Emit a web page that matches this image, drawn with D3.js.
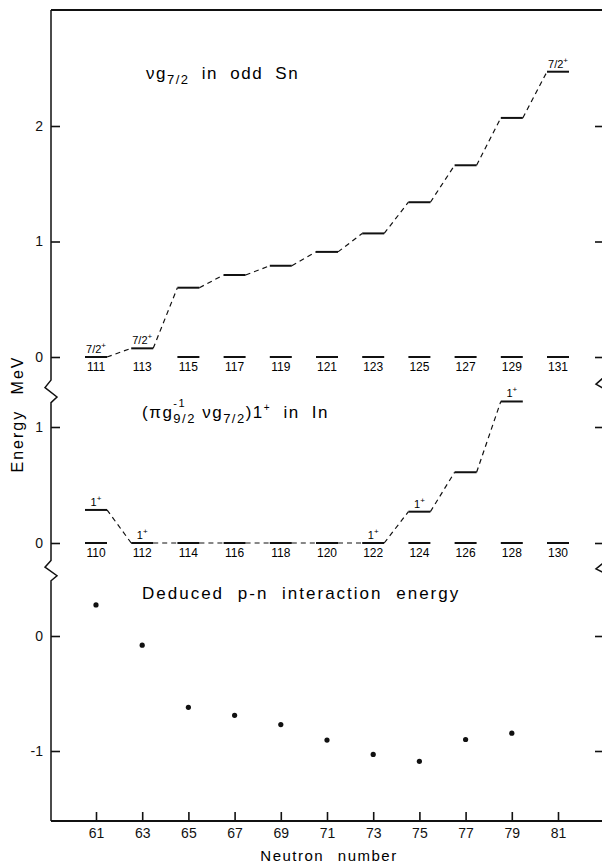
<!DOCTYPE html>
<html>
<head>
<meta charset="utf-8">
<script src="https://cdn.jsdelivr.net/npm/d3@7"></script>
<style>
  body { margin: 0; background: #fff; }
  svg { font-family: 'Liberation Sans', Arial, sans-serif; }
</style>
</head>
<body>
<div id="chart"></div>
<script>
// neutron number ticks
let xTicks = [61, 63, 65, 67, 69, 71, 73, 75, 77, 79, 81];

// nu g7/2 level in odd Sn
let snNeutron = [61, 63, 65, 67, 69, 71, 73, 75, 77, 79, 81];
let snMass = [111, 113, 115, 117, 119, 121, 123, 125, 127, 129, 131];
let snLevel = [0, 0.075, 0.60, 0.71, 0.79, 0.91, 1.07, 1.34, 1.66, 2.07, 2.47];
let snSpin = ['7/2', '7/2', '', '', '', '', '', '', '', '', '7/2'];

// (pi g9/2^-1 nu g7/2) 1+ level in In
let inNeutron = [61, 63, 65, 67, 69, 71, 73, 75, 77, 79, 81];
let inMass = [110, 112, 114, 116, 118, 120, 122, 124, 126, 128, 130];
let inLevel = [0.285, 0, 0, 0, 0, 0, 0, 0.27, 0.61, 1.22, null];
let inSpin = ['1', '1', '', '', '', '', '1', '1', '', '1', ''];

// deduced p-n interaction energy
let pnNeutron = [61, 63, 65, 67, 69, 71, 73, 75, 77, 79];
let pnEnergy = [0.27, -0.08, -0.62, -0.69, -0.77, -0.905, -1.03, -1.09, -0.90, -0.845];

let topTicks = [0, 1, 2];
let midTicks = [0, 1];
let botTicks = [0, -1];

let chart_width = 602;
let chart_height = 865;
let frameL = 51, frameR = 604, frameT = 10, frameB = 821;
let half = 11;

let svg = d3.select('#chart')
    .append('svg')
    .attr('width', chart_width)
    .attr('height', chart_height);

// Scales
let xScale = d3.scaleLinear().domain([61, 81]).range([96, 558]);
let yTop = d3.scaleLinear().domain([0, 2]).range([357, 126]);
let yMid = d3.scaleLinear().domain([0, 1]).range([543, 427]);
let yBot = d3.scaleLinear().domain([0, -1]).range([636, 751]);

let brk1 = [yTop(-0.2), yMid(1.21)];
let brk2 = [yMid(-0.15), yBot(0.48)];

function zig(x0, ya, yb, w) {
    let h = yb - ya;
    return 'L' + x0 + ',' + ya +
        'L' + (x0 - w) + ',' + (ya + h * 0.33) +
        'L' + (x0 + w) + ',' + (ya + h * 0.75) +
        'L' + x0 + ',' + yb;
}

// Frame
svg.append('path')
    .attr('d', 'M' + frameL + ',' + frameT + zig(frameL, brk1[0], brk1[1], 6) +
        zig(frameL, brk2[0], brk2[1], 6) + 'L' + frameL + ',' + frameB)
    .attr('fill', 'none').attr('stroke', '#111').attr('stroke-width', 1.5);
svg.append('path')
    .attr('d', 'M' + frameR + ',' + frameT + zig(frameR, brk1[0] - 3, brk1[1] - 4, 8) +
        zig(frameR, brk2[0] + 2, brk2[1] + 1, 8) + 'L' + frameR + ',' + frameB)
    .attr('fill', 'none').attr('stroke', '#111').attr('stroke-width', 1.5);
svg.append('line')
    .attr('x1', frameL).attr('x2', frameR).attr('y1', frameT).attr('y2', frameT)
    .attr('stroke', '#111').attr('stroke-width', 2);

// Axes
function styleAxis(g) {
    g.select('.domain').remove();
    g.selectAll('.tick line').attr('stroke', '#111').attr('stroke-width', 1.6);
    g.selectAll('.tick text')
        .attr('fill', '#111')
        .style('font-size', '14px')
        .style('font-family', "'Liberation Sans', Arial, sans-serif");
}

[[yTop, topTicks], [yMid, midTicks], [yBot, botTicks]].forEach(function(p) {
    svg.append('g')
        .attr('transform', 'translate(' + frameL + ',0)')
        .call(d3.axisLeft(p[0]).tickValues(p[1]).tickSize(-9).tickPadding(8)
            .tickFormat(function(d) { return String(d); }))
        .call(styleAxis);
    svg.append('g')
        .attr('transform', 'translate(' + frameR + ',0)')
        .call(d3.axisRight(p[0]).tickValues(p[1]).tickSize(-9).tickFormat(''))
        .call(styleAxis);
});

svg.append('g')
    .attr('transform', 'translate(0,' + frameB + ')')
    .call(d3.axisBottom(xScale).tickValues(xTicks).tickSize(-9).tickPadding(7)
        .tickFormat(d3.format('d')))
    .call(styleAxis);
svg.append('line')
    .attr('x1', frameL).attr('x2', frameR).attr('y1', frameB).attr('y2', frameB)
    .attr('stroke', '#111').attr('stroke-width', 2);

// Axis titles
svg.append('text')
    .attr('transform', 'translate(17,414) rotate(-90)')
    .attr('text-anchor', 'middle')
    .attr('dy', '0.35em')
    .style('font-size', '16px')
    .style('letter-spacing', '2px')
    .style('word-spacing', '9px')
    .text('Energy MeV');

svg.append('text')
    .attr('x', 329)
    .attr('y', 861)
    .attr('text-anchor', 'middle')
    .style('font-size', '15px')
    .style('letter-spacing', '1.5px')
    .style('word-spacing', '8px')
    .text('Neutron number');

// Rich text helper: parts laid out left to right, "stack" parts do not advance
function richText(x, y, parts) {
    let cx = x;
    parts.forEach(function(p) {
        let t = svg.append('text')
            .attr('x', cx)
            .attr('y', y + (p.dy || 0))
            .style('font-size', p.size + 'px')
            .style('letter-spacing', (p.ls === undefined ? 1.5 : p.ls) + 'px')
            .style('word-spacing', (p.ws || 0) + 'px')
            .style('white-space', 'pre')
            .text(p.t);
        let w = t.node().getComputedTextLength();
        if (!p.stack) cx += w;
    });
}

richText(146, 79, [
    { t: '\u03bdg', size: 17 },
    { t: '7/2', size: 13, dy: 5 },
    { t: ' in odd Sn', size: 17, ws: 6 }
]);
richText(142, 418, [
    { t: '(\u03c0g', size: 17 },
    { t: '-1', size: 11, dy: -11, stack: true },
    { t: '9/2', size: 13, dy: 5 },
    { t: ' \u03bdg', size: 17 },
    { t: '7/2', size: 13, dy: 5 },
    { t: ')1', size: 17 },
    { t: '+', size: 10, dy: -7 },
    { t: ' in In', size: 17, ws: 6 }
]);
richText(142, 599, [
    { t: 'Deduced p-n interaction energy', size: 17, ls: 2, ws: 7 }
]);

// Level drawing
function drawLevels(yScale, neutron, level, mass, spin) {
    let g = svg.append('g');
    let pts = neutron.map(function(n, i) {
        return { n: n, e: level[i], m: mass[i], s: spin[i] };
    });
    let lv = pts.filter(function(d) { return d.e !== null; });

    // ground state lines
    g.selectAll('line.gs')
        .data(pts.filter(function(d) { return d.e === null || d.e > 0.1; }))
        .enter().append('line')
        .attr('x1', function(d) { return xScale(d.n) - half; })
        .attr('x2', function(d) { return xScale(d.n) + half; })
        .attr('y1', yScale(0)).attr('y2', yScale(0))
        .attr('stroke', '#111').attr('stroke-width', 2);

    // levels
    g.selectAll('line.lv')
        .data(lv)
        .enter().append('line')
        .attr('x1', function(d) { return xScale(d.n) - half; })
        .attr('x2', function(d) { return xScale(d.n) + half; })
        .attr('y1', function(d) { return yScale(d.e); })
        .attr('y2', function(d) { return yScale(d.e); })
        .attr('stroke', '#111').attr('stroke-width', 2);

    // dashed connections
    g.selectAll('line.cn')
        .data(d3.pairs(lv))
        .enter().append('line')
        .attr('x1', function(d) { return xScale(d[0].n) + half; })
        .attr('y1', function(d) { return yScale(d[0].e); })
        .attr('x2', function(d) { return xScale(d[1].n) - half; })
        .attr('y2', function(d) { return yScale(d[1].e); })
        .attr('stroke', '#111').attr('stroke-width', 1.2)
        .attr('stroke-dasharray', '5,4');

    // mass numbers
    g.selectAll('text.mass')
        .data(pts)
        .enter().append('text')
        .attr('x', function(d) { return xScale(d.n); })
        .attr('y', yScale(0) + 14)
        .attr('text-anchor', 'middle')
        .style('font-size', '12px')
        .text(function(d) { return d.m; });

    // spin labels
    let sl = g.selectAll('text.spin')
        .data(lv.filter(function(d) { return d.s; }))
        .enter().append('text')
        .attr('x', function(d) { return xScale(d.n); })
        .attr('y', function(d) { return yScale(d.e) - 4; })
        .attr('text-anchor', 'middle')
        .style('font-size', '11px');
    sl.append('tspan').text(function(d) { return d.s; });
    sl.append('tspan').attr('dy', -5).style('font-size', '8px').text('+');
}

drawLevels(yTop, snNeutron, snLevel, snMass, snSpin);
drawLevels(yMid, inNeutron, inLevel, inMass, inSpin);

// p-n interaction points
svg.selectAll('circle')
    .data(pnNeutron)
    .enter()
    .append('circle')
    .attr('cx', function(d) { return xScale(d); })
    .attr('cy', function(d, i) { return yBot(pnEnergy[i]); })
    .attr('r', 2.6)
    .attr('fill', '#111');
</script>
</body>
</html>
